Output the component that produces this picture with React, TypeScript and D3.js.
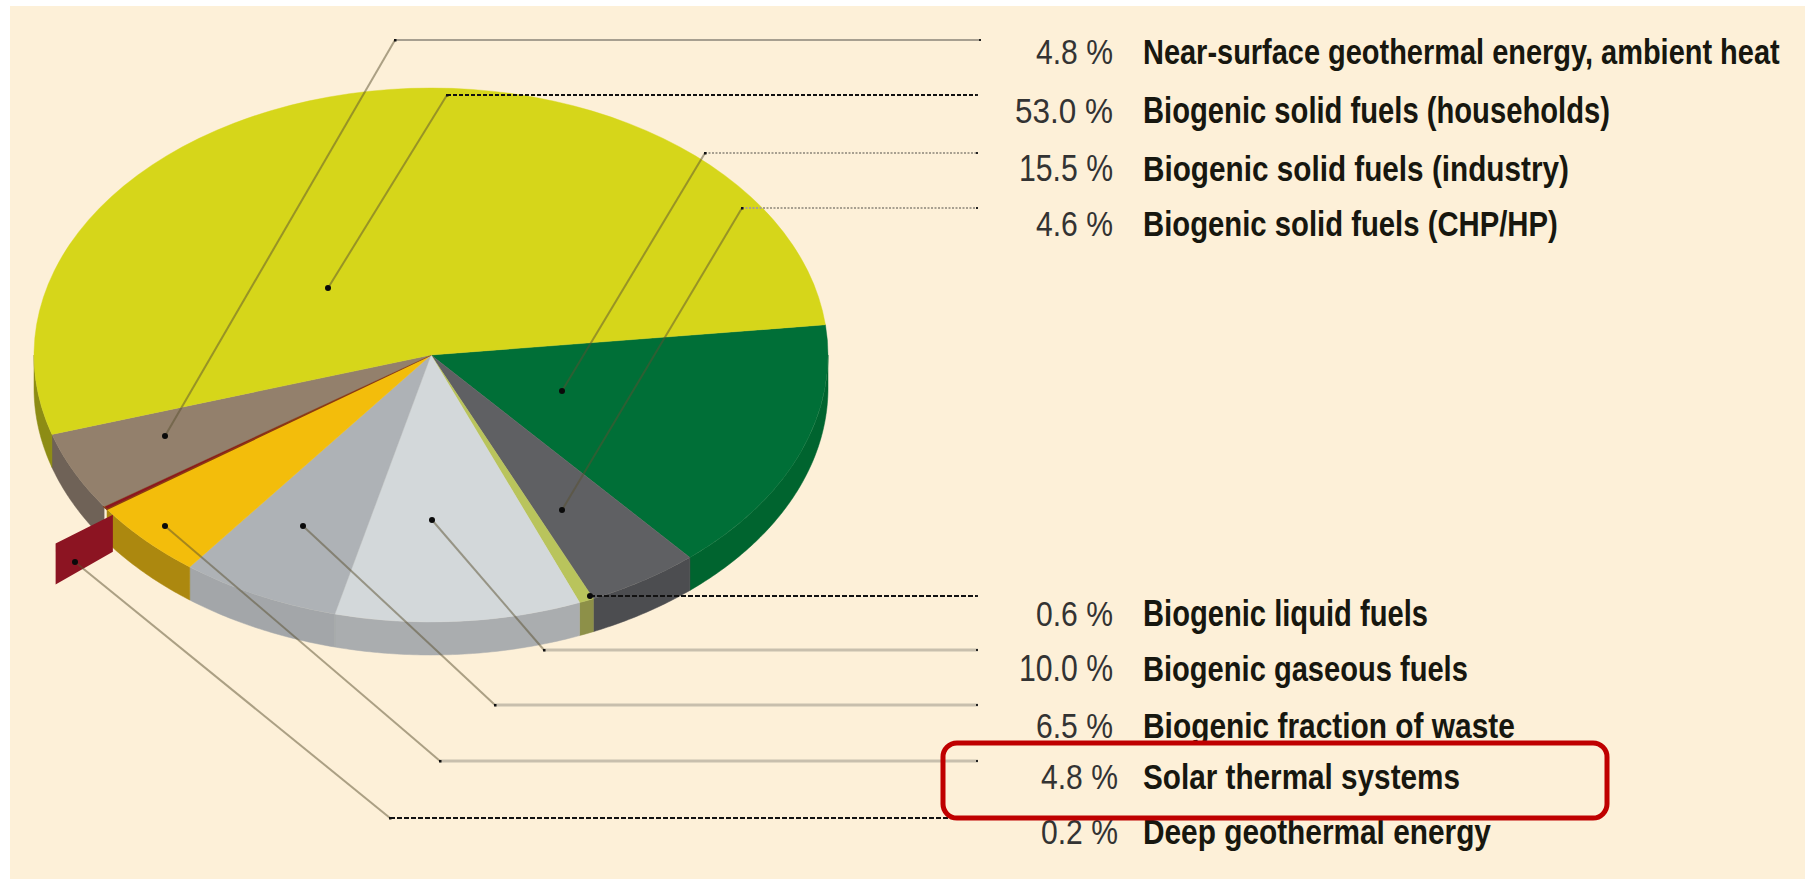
import React from "react";
import * as d3 from "d3";

// --- data (reading order of the legend) ---
const categories = [
  "Near-surface geothermal energy, ambient heat",
  "Biogenic solid fuels (households)",
  "Biogenic solid fuels (industry)",
  "Biogenic solid fuels (CHP/HP)",
  "Biogenic liquid fuels",
  "Biogenic gaseous fuels",
  "Biogenic fraction of waste",
  "Solar thermal systems",
  "Deep geothermal energy",
];
const shares = [4.8, 53.0, 15.5, 4.6, 0.6, 10.0, 6.5, 4.8, 0.2];

// --- style, by category index ---
const faceColors = ["#93806c", "#d6d61a", "#006f37", "#5f6063", "#b9c45c", "#d3d8da", "#aeb2b6", "#f3bd0b", "#8c1422"];
const wallColors = ["#6f6257", "#8d8c14", "#00642f", "#4c4d50", "#8d9048", "#aaadaf", "#a3a6a9", "#ac880f", "#8c1422"];

// --- layout ---
const W = 1805, H = 879;
const CX = 431, CY = 355, RX = 397, RY = 267, DEPTH = 33;
const START_T = -6.5; // degrees from +x, clockwise on screen
const EXPLODE = 1.18;
const EXPLODED = 8; // index of the pulled-out sliver
const SLIVER_SHIFT = 1.8; // degrees

const FONT = "'Liberation Sans', Arial, sans-serif";
const FONT_SIZE = 36;
const labelX = 1143;
// baseline, text width, value right edge, value width
const rowLayout: [number, number, number, number][] = [
  [64, 637, 1113, 77],
  [123, 467, 1113, 98],
  [181, 426, 1113, 94],
  [236, 415, 1113, 77],
  [626, 285, 1113, 77],
  [681, 325, 1113, 94],
  [738, 372, 1113, 77],
  [789, 317, 1118, 77],
  [844, 348, 1118, 77],
];
// dot, corner and line end of every leader, in pixels
const leaderLayout: [number, number, number, number, number, number][] = [
  [165, 436, 395, 40, 981, 40],
  [328, 288, 447, 95, 978, 95],
  [562, 391, 705, 153, 978, 153],
  [562, 510, 742, 208, 978, 208],
  [590, 596, 590, 596, 978, 596],
  [432, 520, 544, 650, 978, 650],
  [303, 526, 495, 705, 978, 705],
  [165, 526, 440, 761, 978, 761],
  [75, 562, 390, 818, 978, 818],
];
const leaderStyles = [
  { stroke: "#a79f90", width: 2.2, dash: "" },
  { stroke: "#111", width: 1.8, dash: "4 2" },
  { stroke: "#a79f90", width: 1.8, dash: "2 1.5" },
  { stroke: "#a79f90", width: 1.8, dash: "2 1.5" },
  { stroke: "#111", width: 2, dash: "5 2" },
  { stroke: "#c8bfad", width: 3, dash: "" },
  { stroke: "#c8bfad", width: 3, dash: "" },
  { stroke: "#c8bfad", width: 3, dash: "" },
  { stroke: "#111", width: 2, dash: "5 2" },
];

const rad = (deg: number) => (deg * Math.PI) / 180;
// d3.pie angles start at 12 o'clock; the pie begins with "industry"
const pieOrder = categories.map((_, i) => (i + 2) % categories.length);
const arcs = d3
  .pie<number>()
  .sort(null)
  .value((i) => shares[i])
  .startAngle(rad(START_T + 90))
  .endAngle(rad(START_T + 90) + 2 * Math.PI)(pieOrder);

const toX = d3.scaleLinear().domain([-1, 1]).range([CX - RX, CX + RX]);
const toY = d3.scaleLinear().domain([-1, 1]).range([CY - RY, CY + RY]);
const rimPoint = (theta: number, k = 1): [number, number] => [
  toX(k * Math.sin(theta)),
  toY(-k * Math.cos(theta)),
];

const faceArc = d3.arc<any>().innerRadius(0).outerRadius(RX);
const closed = d3.line<[number, number]>().curve(d3.curveLinearClosed);

// the front wall of a slice: only the lower half of the ellipse can be seen
function wallPath(a0: number, a1: number): string | null {
  const lo = Math.max(a0, Math.PI / 2);
  const hi = Math.min(a1, (3 * Math.PI) / 2);
  if (hi <= lo) return null;
  const n = Math.max(2, Math.ceil((hi - lo) / 0.01));
  const top = d3.range(n + 1).map((i) => rimPoint(lo + ((hi - lo) * i) / n));
  const bottom = top.map(([x, y]) => [x, y + DEPTH] as [number, number]).reverse();
  return closed([...top, ...bottom]);
}

// horizontal squeeze that makes a text as wide as it is in the reference
const ctx = document.createElement("canvas").getContext("2d")!;
function squeeze(text: string, weight: number, width: number) {
  ctx.font = `${weight} ${FONT_SIZE}px ${FONT}`;
  return width / ctx.measureText(text).width;
}

export default function App() {
  const sliver = arcs.find((a) => a.data === EXPLODED)!;
  const mid = (sliver.startAngle + sliver.endAngle) / 2 - rad(SLIVER_SHIFT);
  const r0 = rimPoint(mid);
  const r1 = rimPoint(mid, EXPLODE);
  const sliverD = closed([r0, r1, [r1[0], r1[1] + DEPTH + 8], [r0[0], r0[1] + DEPTH + 4]]);

  return (
    <svg
      width={W}
      height={H}
      viewBox={`0 0 ${W} ${H}`}
      style={{ position: "absolute", left: 0, top: 0, display: "block", background: "#fff" }}
    >
      <rect x={10} y={6} width={W - 10} height={H - 6} fill="#fdf0d8" />

      {/* walls */}
      {arcs.map((a) => {
        const d = a.data === EXPLODED ? null : wallPath(a.startAngle, a.endAngle);
        return d ? <path key={a.data} d={d} fill={wallColors[a.data]} stroke={wallColors[a.data]} strokeWidth={0.5} /> : null;
      })}

      {/* faces */}
      <g transform={`translate(${CX},${CY}) scale(1,${RY / RX})`}>
        {arcs.map((a) => (
          <path
            key={a.data}
            d={faceArc(a) as string}
            fill={faceColors[a.data]}
            stroke={a.data === EXPLODED ? "#8a3a12" : faceColors[a.data]}
            strokeWidth={a.data === EXPLODED ? 2 : 0.5}
          />
        ))}
      </g>

      <path d={sliverD as string} fill={faceColors[EXPLODED]} />

      {/* leaders */}
      {leaderLayout.map(([x0, y0, x1, y1, x2, y2], i) => {
        const s = leaderStyles[i];
        return (
          <g key={i}>
            {x0 !== x1 && (
              <line x1={x0} y1={y0} x2={x1} y2={y1} stroke="#5a5030" strokeOpacity={0.5} strokeWidth={2} />
            )}
            <line x1={x1} y1={y1} x2={x2} y2={y2} stroke={s.stroke} strokeWidth={s.width} strokeDasharray={s.dash || undefined} />
            <rect x={x2 - 2} y={y2 - 1} width={2} height={2} fill="#222" />
            <rect x={x1 - 1} y={y1 - 1} width={2.5} height={2.5} fill="#111" />
            <circle cx={x0} cy={y0} r={3} fill="#0a0a0a" />
          </g>
        );
      })}

      {/* labels */}
      <g style={{ fontFamily: FONT, fontSize: FONT_SIZE }}>
        {categories.map((c, i) => {
          const [y, w, vx, vw] = rowLayout[i];
          const value = `${shares[i].toFixed(1)} %`;
          return (
            <g key={c}>
              <text
                transform={`translate(${vx - vw},${y}) scale(${squeeze(value, 400, vw)},1)`}
                fill="#333"
              >
                {value}
              </text>
              <text
                transform={`translate(${labelX},${y}) scale(${squeeze(c, 700, w)},1)`}
                fontWeight={700}
                fill="#17170f"
              >
                {c}
              </text>
            </g>
          );
        })}
      </g>

      {/* highlight box */}
      <rect x={943} y={743} width={664} height={75} rx={14} fill="none" stroke="#bf0000" strokeWidth={5} />
    </svg>
  );
}
